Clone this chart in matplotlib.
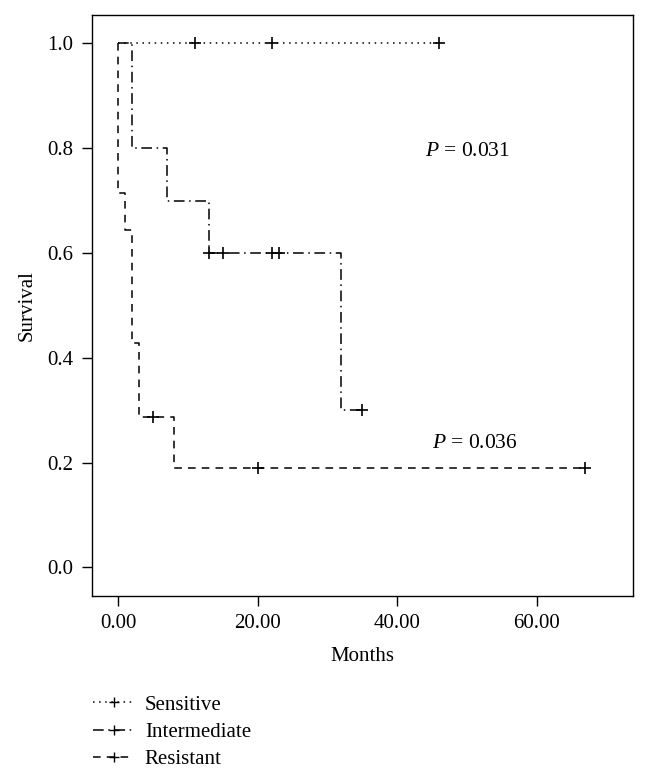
import matplotlib
matplotlib.use("Agg")
import matplotlib.pyplot as plt
from matplotlib.lines import Line2D

# Kaplan-Meier step curves (time in months, survival after the step)
sens_t = [0, 46]
sens_s = [1.0, 1.0]
sens_cens_t = [11, 22, 46]
sens_cens_s = [1.0, 1.0, 1.0]

inter_t = [0, 2, 7, 13, 32, 35]
inter_s = [1.0, 0.8, 0.7, 0.6, 0.3, 0.3]
inter_cens_t = [13, 15, 22, 23, 35]
inter_cens_s = [0.6, 0.6, 0.6, 0.6, 0.3]

res_t = [-0.001, 0, 1, 2, 3, 8, 67]
res_s = [1.0, 0.714, 0.643, 0.429, 0.286, 0.190, 0.190]
res_cens_t = [5, 20, 67]
res_cens_s = [0.286, 0.190, 0.190]

labels = ["Sensitive", "Intermediate", "Resistant"]
p_values = ["0.031", "0.036"]
p_pos = [(50.1, 0.793), (51.2, 0.237)]

x_ticks = [0, 20, 40, 60]
y_ticks = [0.0, 0.2, 0.4, 0.6, 0.8, 1.0]

plt.rcParams['font.family'] = ['Liberation Serif', 'DejaVu Serif']
plt.rcParams['mathtext.fontset'] = 'custom'
plt.rcParams['mathtext.it'] = 'Liberation Serif:italic'
plt.rcParams['mathtext.rm'] = 'Liberation Serif'

styles = [(0, (1, 3)), (0, (7, 3, 1, 3)), (0, (5, 4))]

fig = plt.figure(figsize=(6.48, 7.79), dpi=100, facecolor='w')
ax = fig.add_axes([0.1415, 0.2353, 0.835, 0.7455])

curves = [(sens_t, sens_s, sens_cens_t, sens_cens_s),
          (inter_t, inter_s, inter_cens_t, inter_cens_s),
          (res_t, res_s, res_cens_t, res_cens_s)]
for (t, s, ct, cs), ls in zip(curves, styles):
    ax.step(t, s, where='post', color='black', lw=1.1, linestyle=ls)
    ax.plot(ct, cs, linestyle='none', marker='+', color='black',
            markersize=9, markeredgewidth=1.2)

for pv, (px, py) in zip(p_values, p_pos):
    ax.text(px, py, r"$P$ = " + pv, ha='center', va='center', fontsize=15.5)

ax.set_xlim(-3.8, 73.8)
ax.set_ylim(-0.054, 1.054)
ax.set_xticks(x_ticks)
ax.set_xticklabels([f"{v:.2f}" for v in x_ticks])
ax.set_yticks(y_ticks)
ax.set_yticklabels([f"{v:.1f}" for v in y_ticks])
ax.tick_params(labelsize=15, length=7, width=1.0, direction='out', pad=6)
for sp in ax.spines.values():
    sp.set_linewidth(1.0)
ax.set_xlabel("Months", fontsize=15, labelpad=10)
ax.set_ylabel("Survival", fontsize=15, labelpad=8)

handles = [Line2D([0], [0], color='black', lw=1.1, linestyle=ls, marker='+',
                  markersize=7, markeredgewidth=1.0) for ls in styles]
fig.legend(handles, labels, loc='upper left', bbox_to_anchor=(0.127, 0.121),
           frameon=False, fontsize=15, handlelength=2.0, handletextpad=0.5,
           labelspacing=0.36, numpoints=1, borderpad=0)

plt.savefig("out.png", dpi=100, facecolor='w')
